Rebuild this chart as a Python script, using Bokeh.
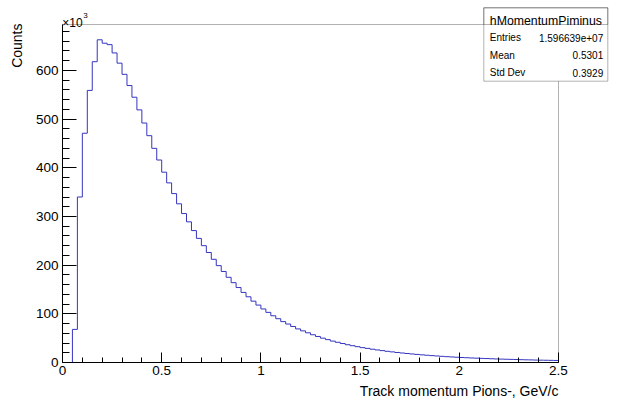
import numpy as np
from bokeh.plotting import figure
from bokeh.models import Range1d, FixedTicker, Label, BoxAnnotation
from bokeh.embed import file_html
from bokeh.resources import INLINE

# ---- data (counts in thousands, 100 bins of 0.025 GeV/c from 0 to 2.5) ----
bin_width = 0.025
n_bins = 100
counts_k = [
    0, 0, 68, 340, 471, 559, 618, 663, 656, 653,
    636, 615, 592, 569, 545, 519, 492, 466, 440, 416,
    391, 369, 347, 326, 306, 289, 271, 255, 240, 226,
    212, 199, 187, 175, 164, 154, 144, 135, 126, 118,
    110, 103, 96, 90, 84, 79, 74, 69, 65, 61,
    57, 53.5, 50, 47, 44, 41.5, 39, 36.5, 34.5, 32.5,
    30.5, 29, 27.3, 25.8, 24.4, 23, 21.8, 20.6, 19.5, 18.5,
    17.5, 16.6, 15.7, 14.9, 14.1, 13.4, 12.7, 12.0, 11.4, 10.8,
    10.3, 9.8, 9.3, 8.9, 8.5, 8.1, 7.7, 7.3, 7.0, 6.7,
    6.4, 6.1, 5.8, 5.5, 5.3, 5.0, 4.8, 4.6, 4.4, 4.2,
]
x_major_ticks = [0, 0.5, 1, 1.5, 2, 2.5]
y_major_ticks = [0, 100, 200, 300, 400, 500, 600]
x_min, x_max = 0.0, 2.5
y_min, y_max = 0.0, 694.4
hist_name = "hMomentumPiminus"
stat_names = ["Entries", "Mean", "Std Dev"]
stat_values = ["1.596639e+07", "0.5301", "0.3929"]
x_title = "Track momentum Pions-, GeV/c"
y_title = "Counts"

FONT = "Liberation Sans"
W, H = 618, 403
# pixel geometry of the histogram frame inside the canvas
FL, FR, FT, FB = 62, 558, 24, 362
sx = (FR - FL) / (x_max - x_min)
sy = (FB - FT) / (y_max - y_min)


def dx(px):
    return x_min + (px - FL) / sx


def dy(py):
    return y_min + (FB - py) / sy


edges = np.arange(n_bins + 1) * bin_width
vals = np.array(counts_k, dtype=float)

p = figure(width=W, height=H, output_backend="svg", toolbar_location=None,
           x_range=Range1d(dx(0), dx(W)), y_range=Range1d(dy(H), dy(0)),
           min_border=0, min_border_left=0, min_border_right=0,
           min_border_top=0, min_border_bottom=0)
p.background_fill_color = "white"
p.border_fill_color = "white"
p.outline_line_color = None
p.xgrid.visible = False
p.ygrid.visible = False

# frame box
p.add_layout(BoxAnnotation(left=x_min, right=x_max, bottom=y_min, top=y_max,
                           fill_alpha=0.0, line_color="black", line_width=1, level="underlay"))

p.step(x=edges, y=np.append(vals, vals[-1]), mode="after", line_color="#3535c0", line_width=1)

# axes, ROOT style: ticks inside
xa = p.xaxis[0]
xa.fixed_location = y_min
xa.bounds = (x_min, x_max)
xa.ticker = FixedTicker(ticks=x_major_ticks, minor_ticks=list(np.round(np.arange(0, 2.51, 0.1), 3)))
xa.major_tick_in = 10
xa.major_tick_out = 0
xa.minor_tick_in = 5
xa.minor_tick_out = 0
xa.major_label_standoff = 3
xa.major_label_text_font = FONT
xa.major_label_text_font_size = "13.5px"
xa.major_label_text_color = "black"
xa.axis_line_color = "black"
xa.major_tick_line_color = "black"
xa.minor_tick_line_color = "black"
xa.major_label_overrides = {0: "0", 0.5: "0.5", 1: "1", 1.5: "1.5", 2: "2", 2.5: "2.5"}

ya = p.yaxis[0]
ya.fixed_location = x_min
ya.bounds = (y_min, y_max)
ya.ticker = FixedTicker(ticks=y_major_ticks, minor_ticks=list(range(0, 700, 20)))
ya.major_tick_in = 14
ya.major_tick_out = 0
ya.minor_tick_in = 7
ya.minor_tick_out = 0
ya.major_label_standoff = 4
ya.major_label_text_font = FONT
ya.major_label_text_font_size = "13.5px"
ya.major_label_text_color = "black"
ya.axis_line_color = "black"
ya.major_tick_line_color = "black"
ya.minor_tick_line_color = "black"

# axis titles (ROOT aligns them to the end of the axis)
p.add_layout(Label(x=x_max, y=dy(390), text=x_title, text_align="right", text_baseline="alphabetic",
                   text_font=FONT, text_font_size="14px", text_color="black"))
p.add_layout(Label(x=dx(16.5), y=dy(23), text=y_title, angle=np.pi / 2, text_align="right",
                   text_baseline="alphabetic", text_font=FONT, text_font_size="14px", text_color="black"))
# exponent
p.add_layout(Label(x=dx(61.7), y=dy(22), text="×10", text_align="left", text_baseline="alphabetic",
                   text_font=FONT, text_font_size="12px", text_color="black"))
p.add_layout(Label(x=dx(82.7), y=dy(15), text="3", text_align="left", text_baseline="alphabetic",
                   text_font=FONT, text_font_size="8px", text_color="black"))

# stats box
bl, br, bt, bb, bs = dx(483.3), dx(607.3), dy(7.3), dy(80.7), dy(24)
p.add_layout(BoxAnnotation(left=bl, right=br, top=bt, bottom=bb,
                           fill_color="white", fill_alpha=1.0, line_color="black", line_width=1))
p.add_layout(BoxAnnotation(left=bl, right=br, top=bt, bottom=bs,
                           fill_alpha=0.0, line_color="black", line_width=1))
p.add_layout(Label(x=dx(545.4), y=dy(20), text=hist_name, text_align="center", text_baseline="alphabetic",
                   text_font=FONT, text_font_size="12.3px", text_color="black"))
for nm, vv, yb in zip(stat_names, stat_values, [37.3, 54.7, 72.0]):
    p.add_layout(Label(x=dx(489.3), y=dy(yb), text=nm, text_align="left", text_baseline="alphabetic",
                       text_font=FONT, text_font_size="10px", text_color="black"))
    p.add_layout(Label(x=dx(602.7), y=dy(yb), text=vv, text_align="right", text_baseline="alphabetic",
                       text_font=FONT, text_font_size="10px", text_color="black"))

open("out.html", "w").write(file_html(p, INLINE))
